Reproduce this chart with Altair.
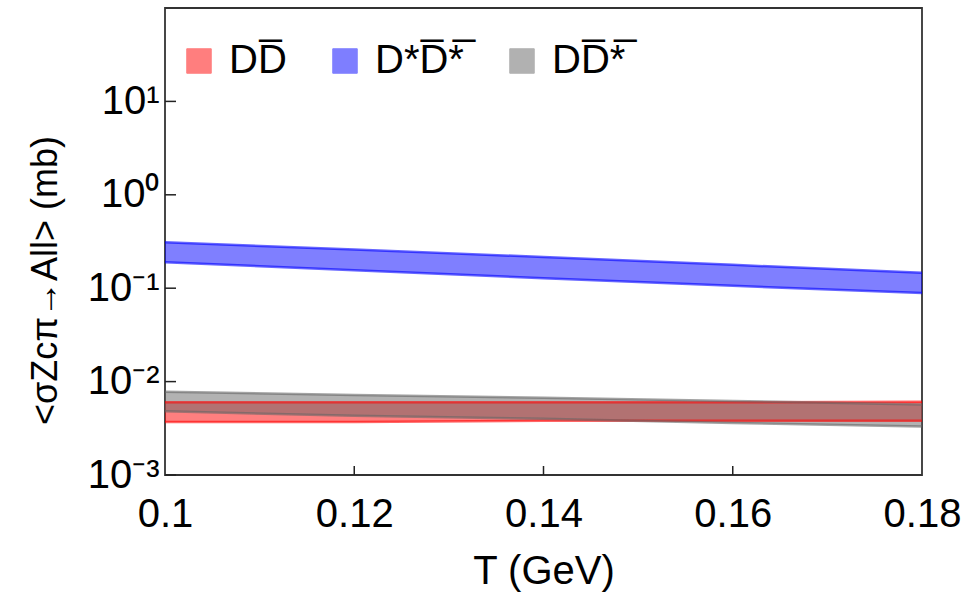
import altair as alt
import pandas as pd

T = [0.10, 0.12, 0.14, 0.16, 0.18]
series_names = ["DD\u0305", "D*D\u0305*\u0305", "DD\u0305*\u0305"]

dd_upper = [0.0060, 0.0060, 0.0060, 0.0060, 0.0061]
dd_lower = [0.0037, 0.0037, 0.0038, 0.0038, 0.0038]
dsds_upper = [0.31, 0.26, 0.216, 0.178, 0.146]
dsds_lower = [0.19, 0.156, 0.128, 0.106, 0.089]
dds_upper = [0.0078, 0.0072, 0.0067, 0.0062, 0.0057]
dds_lower = [0.0048, 0.0043, 0.0040, 0.0036, 0.0033]

colors = ["#FF0000", "#0000FF", "#666666"]

x_ticks = [0.10, 0.12, 0.14, 0.16, 0.18]
y_ticks = [0.001, 0.01, 0.1, 1.0, 10.0]

rows = []
for name, up, lo in zip(series_names,
                        [dd_upper, dsds_upper, dds_upper],
                        [dd_lower, dsds_lower, dds_lower]):
    for i, t in enumerate(T):
        rows.append({"T": t, "upper": up[i], "lower": lo[i], "series": name, "order": series_names.index(name)})
df = pd.DataFrame(rows)

W, H = 757, 467
FONT = "Liberation Sans"

color_scale = alt.Scale(domain=series_names, range=colors)
xs = alt.Scale(domain=[0.1, 0.18], nice=False, zero=False)
ys = alt.Scale(type="log", domain=[0.001, 100], nice=False)

label_expr = ("datum.value >= 5 ? '10¹' : datum.value >= 0.5 ? '10⁰' : datum.value >= 0.05 ? '10⁻¹' : "
              "datum.value >= 0.005 ? '10⁻²' : '10⁻³'")

base = alt.Chart(df)

areas = base.mark_area(opacity=0.5).encode(
    x=alt.X("T:Q", scale=xs, axis=alt.Axis(
        title="T (GeV)", values=x_ticks, labelExpr="format(datum.value, '.2~f')",
        labelFontSize=40, titleFontSize=40, labelFlush=False, domain=False, ticks=False,
        grid=False, labelPadding=19, titlePadding=17, labelColor="black", titleColor="black",
        titleFontWeight="normal", labelFont=FONT, titleFont=FONT)),
    y=alt.Y("upper:Q", scale=ys, axis=alt.Axis(
        title="<σZcπ→All>  (mb)", values=y_ticks, labelExpr=label_expr,
        labelFontSize=40, titleFontSize=36, labelFlush=False, domain=False, ticks=False,
        grid=False, labelPadding=6, titleX=-120, titleY=272, titleAlign="center",
        titleBaseline="middle", titleAngle=270,
        labelColor="black", titleColor="black",
        titleFontWeight="normal", labelFont=FONT, titleFont=FONT)),
    y2="lower:Q",
    color=alt.Color("series:N", scale=color_scale, sort=series_names, legend=alt.Legend(
        title=None, orient="none", legendX=14, legendY=33, direction="horizontal",
        symbolType="square", symbolSize=600, symbolOpacity=0.5, symbolStrokeColor="#555555",
        symbolStrokeWidth=1, labelFontSize=40, labelOffset=10, columnPadding=38,
        labelColor="black", labelFont=FONT)),
    order=alt.Order("order:Q"),
)

upper_lines = base.mark_line(opacity=0.6, strokeWidth=2.5).encode(
    x=alt.X("T:Q", scale=xs), y=alt.Y("upper:Q", scale=ys),
    color=alt.Color("series:N", scale=color_scale, legend=None),
    detail="series:N",
)
lower_lines = base.mark_line(opacity=0.6, strokeWidth=2.5).encode(
    x=alt.X("T:Q", scale=xs), y=alt.Y("lower:Q", scale=ys),
    color=alt.Color("series:N", scale=color_scale, legend=None),
    detail="series:N",
)

ytick_df = pd.DataFrame({"v": y_ticks})
xtick_df = pd.DataFrame({"v": x_ticks[1:-1]})

ytick_rules = alt.Chart(ytick_df).mark_rule(color="#222222", strokeWidth=1.5).encode(
    y=alt.Y("v:Q", scale=ys), x=alt.value(0), x2=alt.value(11))
xtick_rules = alt.Chart(xtick_df).mark_rule(color="#222222", strokeWidth=1.5).encode(
    x=alt.X("v:Q", scale=xs), y=alt.value(H), y2=alt.value(H - 9))

chart = alt.layer(areas, upper_lines, lower_lines, ytick_rules, xtick_rules).properties(
    width=W, height=H,
    autosize=alt.AutoSizeParams(type="none"),
    padding={"left": 165, "top": 8, "right": 44, "bottom": 124},
).configure(
    font=FONT
).configure_view(stroke="#333333", strokeWidth=1.8)

chart.save("out.html", embed_options={"renderer": "svg", "actions": False})
